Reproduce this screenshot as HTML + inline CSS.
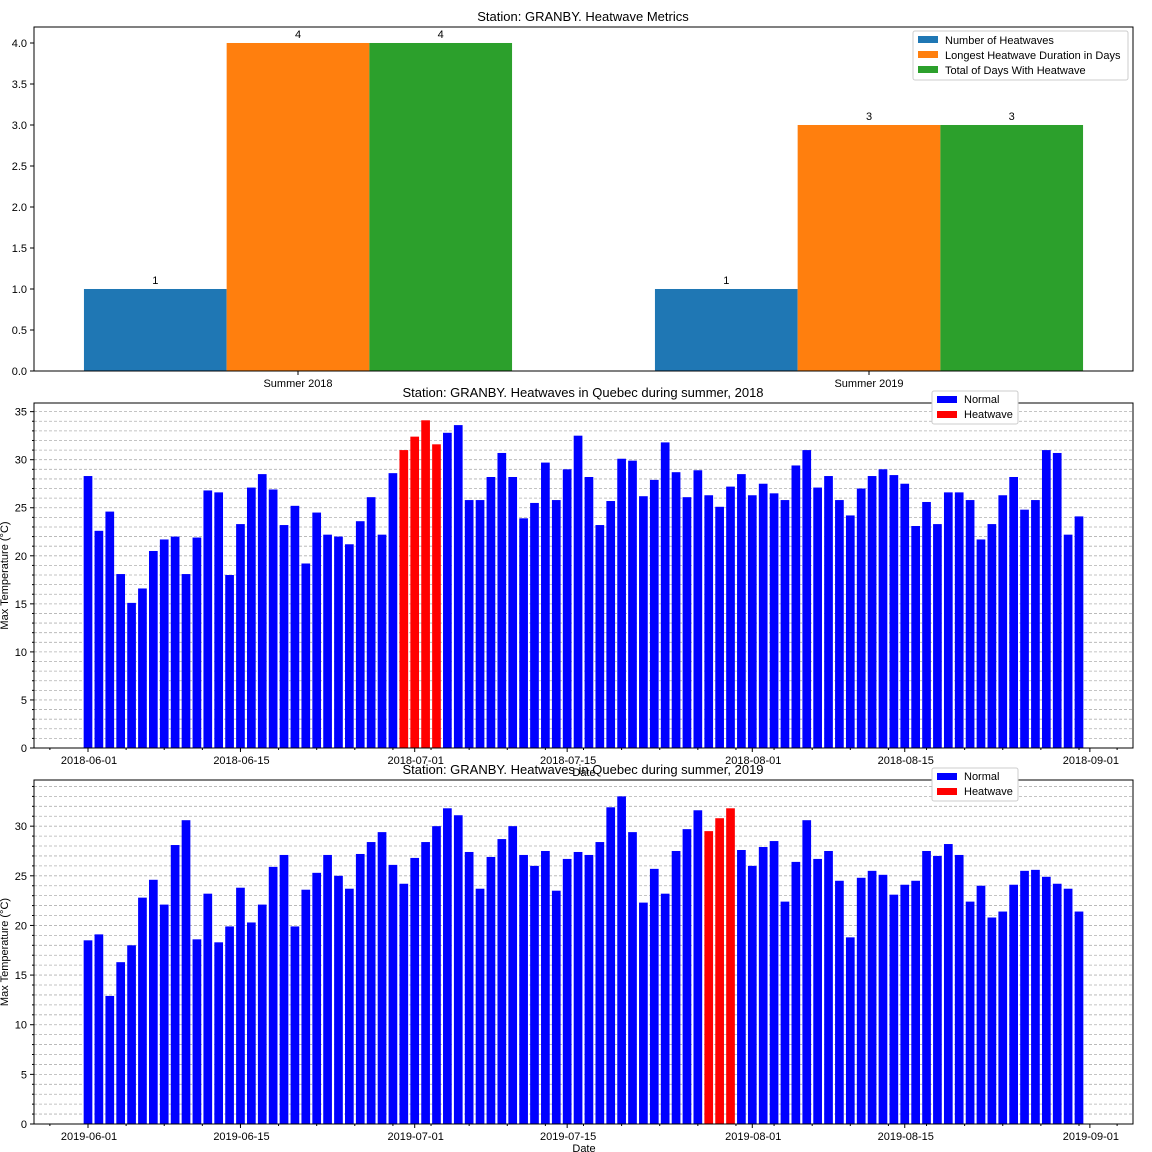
<!DOCTYPE html>
<html><head><meta charset="utf-8"><style>
html,body{margin:0;padding:0;background:#fff;}
svg{display:block;font-family:"Liberation Sans","DejaVu Sans",sans-serif;}
</style></head><body>
<svg id="c" width="1152" height="1152" viewBox="0 0 1152 1152" xmlns="http://www.w3.org/2000/svg"></svg>
<script>
const metricCats=["Summer 2018","Summer 2019"];
const numHeatwaves=[1,1];
const longestDuration=[4,3];
const totalDays=[4,3];
const metricTicks=[0,0.5,1,1.5,2,2.5,3,3.5,4];
const temps2018=[28.3,22.6,24.6,18.1,15.1,16.6,20.5,21.7,22.0,18.1,21.9,26.8,26.6,18.0,23.3,27.1,28.5,26.9,23.2,25.2,19.2,24.5,22.2,22.0,21.2,23.6,26.1,22.2,28.6,31.0,32.4,34.1,31.6,32.8,33.6,25.8,25.8,28.2,30.7,28.2,23.9,25.5,29.7,25.8,29.0,32.5,28.2,23.2,25.7,30.1,29.9,26.2,27.9,31.8,28.7,26.1,28.9,26.3,25.1,27.2,28.5,26.3,27.5,26.5,25.8,29.4,31.0,27.1,28.3,25.8,24.2,27.0,28.3,29.0,28.4,27.5,23.1,25.6,23.3,26.6,26.6,25.8,21.7,23.3,26.3,28.2,24.8,25.8,31.0,30.7,22.2,24.1];
const heat2018=[29,30,31,32];
const temps2019=[18.5,19.1,12.9,16.3,18.0,22.8,24.6,22.1,28.1,30.6,18.6,23.2,18.3,19.9,23.8,20.3,22.1,25.9,27.1,19.9,23.6,25.3,27.1,25.0,23.7,27.2,28.4,29.4,26.1,24.2,26.8,28.4,30.0,31.8,31.1,27.4,23.7,26.9,28.7,30.0,27.1,26.0,27.5,23.5,26.7,27.4,27.1,28.4,31.9,33.0,29.4,22.3,25.7,23.2,27.5,29.7,31.6,29.5,30.8,31.8,27.6,26.0,27.9,28.5,22.4,26.4,30.6,26.7,27.5,24.5,18.8,24.8,25.5,25.1,23.1,24.1,24.5,27.5,27.0,28.2,27.1,22.4,24.0,20.8,21.4,24.1,25.5,25.6,24.9,24.2,23.7,21.4];
const heat2019=[57,58,59];
const dateTickDays=[0,14,30,44,61,75,92];
const dateTickLabels2018=["2018-06-01","2018-06-15","2018-07-01","2018-07-15","2018-08-01","2018-08-15","2018-09-01"];
const dateTickLabels2019=["2019-06-01","2019-06-15","2019-07-01","2019-07-15","2019-08-01","2019-08-15","2019-09-01"];
const tempTicks=[0,5,10,15,20,25,30,35];

const svg=document.getElementById('c');
const NS="http://www.w3.org/2000/svg";
function mk(tag,attrs,parent,name){const e=document.createElementNS(NS,tag);for(const k in attrs)e.setAttribute(k,attrs[k]);(parent||svg).appendChild(e);


return e;}
function txt(x,y,s,size,anchor,parent,name,extra){const t=mk('text',Object.assign({x:x,y:y,'font-size':size,'text-anchor':anchor||'middle',fill:'#000'},extra||{}),parent,name);t.textContent=s;return t;}

(function(){
 const L=34,R=1133,T=27,B=371,ymax=4.195;
 const g=mk('g',{},svg,'metrics-chart');
 const y=v=>B-(v/ymax)*(B-T);
 const cx=i=>298+i*571;
 const bw=142.7;
 const series=[[numHeatwaves,'#1f77b4','number-of-heatwaves'],[longestDuration,'#ff7f0e','longest-duration'],[totalDays,'#2ca02c','total-days']];
 series.forEach((s,si)=>{s[0].forEach((v,i)=>{const x=cx(i)+(si-1)*bw-bw/2;
  mk('rect',{x:x,y:y(v),width:bw,height:B-y(v),fill:s[1]},g,'bar-'+s[2]+'-'+i);
  txt(x+bw/2,y(v)-5,String(v),11,'middle',g,'bar-value-label');});});
 mk('rect',{x:L,y:T,width:R-L,height:B-T,fill:'none',stroke:'#000','stroke-width':1},g,'metrics-frame');
 metricTicks.forEach(v=>{mk('line',{x1:L-4,x2:L,y1:y(v),y2:y(v),stroke:'#000'},g,'y-tick');txt(L-7,y(v)+4,v.toFixed(1),11,'end',g,'y-tick-label');});
 metricCats.forEach((c,i)=>{mk('line',{x1:cx(i),x2:cx(i),y1:B,y2:B+4,stroke:'#000'},g,'x-tick');txt(cx(i),B+16,c,11,'middle',g,'x-tick-label');});
 txt(583,21,'Station: GRANBY. Heatwave Metrics',13,'middle',g,'metrics-title');
 const lg=mk('g',{},g,'metrics-legend');
 mk('rect',{x:913,y:31,width:215,height:49,fill:'#fff',stroke:'#ccc',rx:2},lg,'legend-box');
 series.forEach((s,si)=>{const yy=36+si*15;mk('rect',{x:918,y:yy,width:20,height:7,fill:s[1]},lg,'legend-swatch');txt(945,yy+8,['Number of Heatwaves','Longest Heatwave Duration in Days','Total of Days With Heatwave'][si],11,'start',lg,'legend-entry');});
})();

function tempChart(T,B,ymax,vals,heat,labels,title,year,titleY,xlabY){
 const L=34,R=1133;
 const g=mk('g',{},svg,'temp-chart-'+year);
 const y=v=>B-(v/ymax)*(B-T);
 const x=d=>88+d*10.89;
 for(let v=1;v<ymax;v++){mk('line',{x1:L,x2:R,y1:y(v),y2:y(v),stroke:'#b0b0b0','stroke-width':0.8,'stroke-dasharray':'3,2'},g,'grid-line');}
 vals.forEach((v,i)=>{const hw=heat.includes(i);const w=8.7;
  mk('rect',{x:x(i)-w/2,y:y(v),width:w,height:B-y(v),fill:hw?'#ff0000':'#0000ff'},g,(hw?'heatwave-bar-':'normal-bar-')+i);});
 mk('rect',{x:L,y:T,width:R-L,height:B-T,fill:'none',stroke:'#000'},g,'temp-frame');
 for(let v=0;v<ymax;v++){const maj=v%5===0;mk('line',{x1:L-(maj?4:2),x2:L,y1:y(v),y2:y(v),stroke:'#000'},g,maj?'y-tick':'y-minor-tick');}
 tempTicks.forEach(v=>{if(v<=ymax)txt(L-7,y(v)+4,String(v),11,'end',g,'y-tick-label');});
 for(let d=-3.5;d<96;d+=3.5){mk('line',{x1:x(d),x2:x(d),y1:B,y2:B+2,stroke:'#000'},g,'x-minor-tick');}
 dateTickDays.forEach((d,i)=>{mk('line',{x1:x(d),x2:x(d),y1:B,y2:B+4,stroke:'#000'},g,'x-tick');txt(x(d)+1,B+16,labels[i],11,'middle',g,'x-tick-label');});
 txt(584,xlabY,'Date',11,'middle',g,'x-axis-title');
 txt(8,(T+B)/2,'Max Temperature (°C)',11,'middle',g,'y-axis-title',{transform:'rotate(-90 8 '+((T+B)/2)+')'});
 txt(583,titleY,title,13,'middle',g,'temp-title');
 const lg=mk('g',{},g,'temp-legend');
 const ly=T-12;
 mk('rect',{x:932,y:ly,width:86,height:33,fill:'#fff',stroke:'#ccc',rx:2},lg,'legend-box');
 mk('rect',{x:937,y:ly+5,width:20,height:7,fill:'#0000ff'},lg,'legend-swatch-normal');
 txt(964,ly+12,'Normal',11,'start',lg,'legend-entry-normal');
 mk('rect',{x:937,y:ly+20,width:20,height:7,fill:'#ff0000'},lg,'legend-swatch-heatwave');
 txt(964,ly+27,'Heatwave',11,'start',lg,'legend-entry-heatwave');
}
tempChart(403,748,35.9,temps2018,heat2018,dateTickLabels2018,'Station: GRANBY. Heatwaves in Quebec during summer, 2018','2018',397,776);
tempChart(780,1124,34.65,temps2019,heat2019,dateTickLabels2019,'Station: GRANBY. Heatwaves in Quebec during summer, 2019','2019',774,1152);
</script>
</body></html>
